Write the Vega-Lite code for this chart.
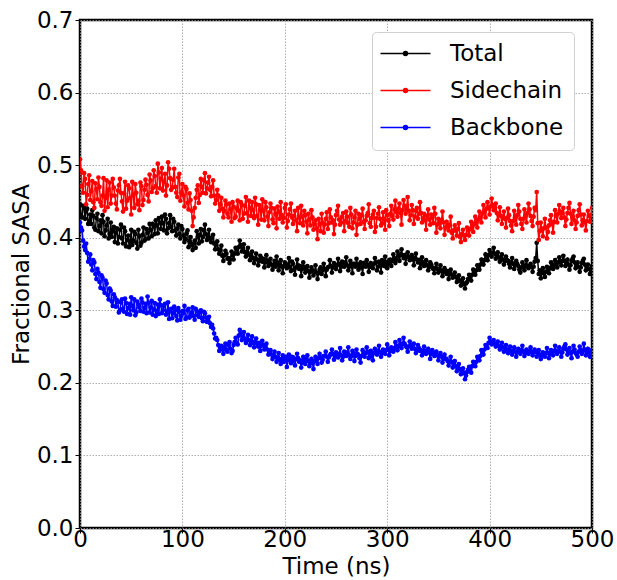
{
  "$schema": "https://vega.github.io/schema/vega-lite/v6.json",
  "width": 512,
  "height": 508,
  "autosize": {"type": "none"},
  "padding": {"left": 80, "top": 20, "right": 25, "bottom": 52},
  "background": "white",
  "config": {
    "font": "DejaVu Sans",
    "view": {"stroke": "black", "strokeWidth": 2.5},
    "axis": {
      "domain": false,
      "grid": true,
      "gridColor": "#9a9a9a",
      "gridDash": [1.5, 1.5],
      "gridWidth": 0.8,
      "tickColor": "black",
      "tickSize": 5,
      "tickWidth": 1,
      "labelFont": "DejaVu Sans",
      "labelFontSize": 23,
      "labelColor": "black",
      "labelFlush": false,
      "titleFont": "DejaVu Sans",
      "titleFontSize": 23,
      "titleFontWeight": "normal",
      "titleColor": "black"
    },
    "legend": {
      "labelFont": "DejaVu Sans",
      "labelFontSize": 23,
      "labelColor": "black"
    }
  },
  "data": {
    "values": [
      {"t":0,"Total":0.446,"Sidechain":0.508,"Backbone":0.421},
      {"t":1,"Total":0.431,"Sidechain":0.493,"Backbone":0.414},
      {"t":2,"Total":0.428,"Sidechain":0.471,"Backbone":0.410},
      {"t":3,"Total":0.444,"Sidechain":0.462,"Backbone":0.396},
      {"t":4,"Total":0.441,"Sidechain":0.489,"Backbone":0.388},
      {"t":5,"Total":0.426,"Sidechain":0.481,"Backbone":0.383},
      {"t":6,"Total":0.437,"Sidechain":0.446,"Backbone":0.392},
      {"t":7,"Total":0.440,"Sidechain":0.459,"Backbone":0.379},
      {"t":8,"Total":0.419,"Sidechain":0.474,"Backbone":0.367},
      {"t":9,"Total":0.423,"Sidechain":0.486,"Backbone":0.371},
      {"t":10,"Total":0.432,"Sidechain":0.452,"Backbone":0.377},
      {"t":11,"Total":0.419,"Sidechain":0.464,"Backbone":0.363},
      {"t":12,"Total":0.438,"Sidechain":0.478,"Backbone":0.355},
      {"t":13,"Total":0.430,"Sidechain":0.449,"Backbone":0.369},
      {"t":14,"Total":0.414,"Sidechain":0.441,"Backbone":0.366},
      {"t":15,"Total":0.411,"Sidechain":0.475,"Backbone":0.350},
      {"t":16,"Total":0.427,"Sidechain":0.467,"Backbone":0.343},
      {"t":17,"Total":0.433,"Sidechain":0.453,"Backbone":0.357},
      {"t":18,"Total":0.409,"Sidechain":0.483,"Backbone":0.352},
      {"t":19,"Total":0.416,"Sidechain":0.470,"Backbone":0.339},
      {"t":20,"Total":0.424,"Sidechain":0.449,"Backbone":0.331},
      {"t":21,"Total":0.406,"Sidechain":0.444,"Backbone":0.348},
      {"t":22,"Total":0.431,"Sidechain":0.458,"Backbone":0.345},
      {"t":23,"Total":0.422,"Sidechain":0.482,"Backbone":0.329},
      {"t":24,"Total":0.402,"Sidechain":0.437,"Backbone":0.324},
      {"t":25,"Total":0.410,"Sidechain":0.455,"Backbone":0.341},
      {"t":26,"Total":0.417,"Sidechain":0.479,"Backbone":0.337},
      {"t":27,"Total":0.426,"Sidechain":0.442,"Backbone":0.321},
      {"t":28,"Total":0.399,"Sidechain":0.466,"Backbone":0.315},
      {"t":29,"Total":0.405,"Sidechain":0.476,"Backbone":0.330},
      {"t":30,"Total":0.421,"Sidechain":0.447,"Backbone":0.327},
      {"t":31,"Total":0.401,"Sidechain":0.458,"Backbone":0.312},
      {"t":32,"Total":0.410,"Sidechain":0.481,"Backbone":0.306},
      {"t":33,"Total":0.415,"Sidechain":0.469,"Backbone":0.322},
      {"t":34,"Total":0.394,"Sidechain":0.458,"Backbone":0.318},
      {"t":35,"Total":0.407,"Sidechain":0.447,"Backbone":0.305},
      {"t":36,"Total":0.413,"Sidechain":0.439,"Backbone":0.314},
      {"t":37,"Total":0.392,"Sidechain":0.465,"Backbone":0.312},
      {"t":38,"Total":0.401,"Sidechain":0.472,"Backbone":0.297},
      {"t":39,"Total":0.411,"Sidechain":0.481,"Backbone":0.300},
      {"t":40,"Total":0.418,"Sidechain":0.462,"Backbone":0.311},
      {"t":41,"Total":0.399,"Sidechain":0.450,"Backbone":0.315},
      {"t":42,"Total":0.392,"Sidechain":0.436,"Backbone":0.302},
      {"t":43,"Total":0.414,"Sidechain":0.461,"Backbone":0.298},
      {"t":44,"Total":0.409,"Sidechain":0.477,"Backbone":0.316},
      {"t":45,"Total":0.388,"Sidechain":0.440,"Backbone":0.310},
      {"t":46,"Total":0.397,"Sidechain":0.451,"Backbone":0.295},
      {"t":47,"Total":0.403,"Sidechain":0.472,"Backbone":0.303},
      {"t":48,"Total":0.387,"Sidechain":0.468,"Backbone":0.309},
      {"t":49,"Total":0.395,"Sidechain":0.455,"Backbone":0.294},
      {"t":50,"Total":0.411,"Sidechain":0.432,"Backbone":0.318},
      {"t":51,"Total":0.390,"Sidechain":0.477,"Backbone":0.306},
      {"t":52,"Total":0.396,"Sidechain":0.459,"Backbone":0.300},
      {"t":53,"Total":0.408,"Sidechain":0.441,"Backbone":0.315},
      {"t":54,"Total":0.405,"Sidechain":0.474,"Backbone":0.293},
      {"t":55,"Total":0.393,"Sidechain":0.462,"Backbone":0.297},
      {"t":56,"Total":0.385,"Sidechain":0.446,"Backbone":0.312},
      {"t":57,"Total":0.411,"Sidechain":0.451,"Backbone":0.308},
      {"t":58,"Total":0.402,"Sidechain":0.438,"Backbone":0.304},
      {"t":59,"Total":0.389,"Sidechain":0.476,"Backbone":0.299},
      {"t":60,"Total":0.393,"Sidechain":0.471,"Backbone":0.316},
      {"t":61,"Total":0.404,"Sidechain":0.445,"Backbone":0.311},
      {"t":62,"Total":0.414,"Sidechain":0.452,"Backbone":0.298},
      {"t":63,"Total":0.396,"Sidechain":0.466,"Backbone":0.303},
      {"t":64,"Total":0.398,"Sidechain":0.480,"Backbone":0.309},
      {"t":65,"Total":0.412,"Sidechain":0.473,"Backbone":0.296},
      {"t":66,"Total":0.407,"Sidechain":0.459,"Backbone":0.319},
      {"t":67,"Total":0.399,"Sidechain":0.450,"Backbone":0.310},
      {"t":68,"Total":0.419,"Sidechain":0.487,"Backbone":0.297},
      {"t":69,"Total":0.411,"Sidechain":0.479,"Backbone":0.304},
      {"t":70,"Total":0.402,"Sidechain":0.463,"Backbone":0.313},
      {"t":71,"Total":0.419,"Sidechain":0.468,"Backbone":0.294},
      {"t":72,"Total":0.416,"Sidechain":0.493,"Backbone":0.301},
      {"t":73,"Total":0.405,"Sidechain":0.485,"Backbone":0.310},
      {"t":74,"Total":0.424,"Sidechain":0.471,"Backbone":0.292},
      {"t":75,"Total":0.417,"Sidechain":0.462,"Backbone":0.299},
      {"t":76,"Total":0.406,"Sidechain":0.502,"Backbone":0.308},
      {"t":77,"Total":0.427,"Sidechain":0.490,"Backbone":0.295},
      {"t":78,"Total":0.421,"Sidechain":0.468,"Backbone":0.315},
      {"t":79,"Total":0.412,"Sidechain":0.481,"Backbone":0.307},
      {"t":80,"Total":0.429,"Sidechain":0.496,"Backbone":0.296},
      {"t":81,"Total":0.420,"Sidechain":0.465,"Backbone":0.300},
      {"t":82,"Total":0.410,"Sidechain":0.477,"Backbone":0.306},
      {"t":83,"Total":0.432,"Sidechain":0.488,"Backbone":0.309},
      {"t":84,"Total":0.426,"Sidechain":0.458,"Backbone":0.294},
      {"t":85,"Total":0.406,"Sidechain":0.472,"Backbone":0.298},
      {"t":86,"Total":0.413,"Sidechain":0.504,"Backbone":0.311},
      {"t":87,"Total":0.420,"Sidechain":0.495,"Backbone":0.288},
      {"t":88,"Total":0.431,"Sidechain":0.482,"Backbone":0.299},
      {"t":89,"Total":0.415,"Sidechain":0.466,"Backbone":0.302},
      {"t":90,"Total":0.409,"Sidechain":0.469,"Backbone":0.289},
      {"t":91,"Total":0.426,"Sidechain":0.480,"Backbone":0.296},
      {"t":92,"Total":0.422,"Sidechain":0.495,"Backbone":0.305},
      {"t":93,"Total":0.410,"Sidechain":0.470,"Backbone":0.300},
      {"t":94,"Total":0.403,"Sidechain":0.462,"Backbone":0.292},
      {"t":95,"Total":0.413,"Sidechain":0.456,"Backbone":0.286},
      {"t":96,"Total":0.418,"Sidechain":0.483,"Backbone":0.303},
      {"t":97,"Total":0.405,"Sidechain":0.488,"Backbone":0.298},
      {"t":98,"Total":0.399,"Sidechain":0.451,"Backbone":0.287},
      {"t":99,"Total":0.416,"Sidechain":0.462,"Backbone":0.292},
      {"t":100,"Total":0.412,"Sidechain":0.474,"Backbone":0.299},
      {"t":101,"Total":0.403,"Sidechain":0.458,"Backbone":0.296},
      {"t":102,"Total":0.394,"Sidechain":0.443,"Backbone":0.306},
      {"t":103,"Total":0.398,"Sidechain":0.470,"Backbone":0.288},
      {"t":104,"Total":0.406,"Sidechain":0.467,"Backbone":0.290},
      {"t":105,"Total":0.410,"Sidechain":0.448,"Backbone":0.300},
      {"t":106,"Total":0.387,"Sidechain":0.439,"Backbone":0.302},
      {"t":107,"Total":0.395,"Sidechain":0.461,"Backbone":0.290},
      {"t":108,"Total":0.401,"Sidechain":0.452,"Backbone":0.293},
      {"t":109,"Total":0.390,"Sidechain":0.437,"Backbone":0.297},
      {"t":110,"Total":0.383,"Sidechain":0.416,"Backbone":0.304},
      {"t":111,"Total":0.392,"Sidechain":0.428,"Backbone":0.292},
      {"t":112,"Total":0.396,"Sidechain":0.441,"Backbone":0.287},
      {"t":113,"Total":0.386,"Sidechain":0.455,"Backbone":0.302},
      {"t":114,"Total":0.409,"Sidechain":0.466,"Backbone":0.299},
      {"t":115,"Total":0.401,"Sidechain":0.472,"Backbone":0.293},
      {"t":116,"Total":0.392,"Sidechain":0.448,"Backbone":0.291},
      {"t":117,"Total":0.404,"Sidechain":0.459,"Backbone":0.297},
      {"t":118,"Total":0.412,"Sidechain":0.481,"Backbone":0.300},
      {"t":119,"Total":0.395,"Sidechain":0.470,"Backbone":0.289},
      {"t":120,"Total":0.401,"Sidechain":0.462,"Backbone":0.285},
      {"t":121,"Total":0.410,"Sidechain":0.479,"Backbone":0.298},
      {"t":122,"Total":0.418,"Sidechain":0.489,"Backbone":0.296},
      {"t":123,"Total":0.405,"Sidechain":0.461,"Backbone":0.290},
      {"t":124,"Total":0.397,"Sidechain":0.468,"Backbone":0.284},
      {"t":125,"Total":0.401,"Sidechain":0.476,"Backbone":0.286},
      {"t":126,"Total":0.411,"Sidechain":0.484,"Backbone":0.291},
      {"t":127,"Total":0.399,"Sidechain":0.466,"Backbone":0.282},
      {"t":128,"Total":0.394,"Sidechain":0.457,"Backbone":0.277},
      {"t":129,"Total":0.400,"Sidechain":0.470,"Backbone":0.280},
      {"t":130,"Total":0.404,"Sidechain":0.479,"Backbone":0.275},
      {"t":131,"Total":0.392,"Sidechain":0.458,"Backbone":0.268},
      {"t":132,"Total":0.384,"Sidechain":0.447,"Backbone":0.261},
      {"t":133,"Total":0.390,"Sidechain":0.452,"Backbone":0.262},
      {"t":134,"Total":0.395,"Sidechain":0.466,"Backbone":0.259},
      {"t":135,"Total":0.384,"Sidechain":0.458,"Backbone":0.252},
      {"t":136,"Total":0.378,"Sidechain":0.437,"Backbone":0.244},
      {"t":137,"Total":0.383,"Sidechain":0.446,"Backbone":0.249},
      {"t":138,"Total":0.389,"Sidechain":0.455,"Backbone":0.251},
      {"t":139,"Total":0.375,"Sidechain":0.440,"Backbone":0.246},
      {"t":140,"Total":0.368,"Sidechain":0.428,"Backbone":0.240},
      {"t":141,"Total":0.376,"Sidechain":0.437,"Backbone":0.249},
      {"t":142,"Total":0.382,"Sidechain":0.451,"Backbone":0.254},
      {"t":143,"Total":0.378,"Sidechain":0.446,"Backbone":0.245},
      {"t":144,"Total":0.371,"Sidechain":0.433,"Backbone":0.243},
      {"t":145,"Total":0.372,"Sidechain":0.428,"Backbone":0.252},
      {"t":146,"Total":0.365,"Sidechain":0.447,"Backbone":0.256},
      {"t":147,"Total":0.370,"Sidechain":0.439,"Backbone":0.247},
      {"t":148,"Total":0.381,"Sidechain":0.422,"Backbone":0.241},
      {"t":149,"Total":0.376,"Sidechain":0.449,"Backbone":0.244},
      {"t":150,"Total":0.370,"Sidechain":0.443,"Backbone":0.252},
      {"t":151,"Total":0.378,"Sidechain":0.427,"Backbone":0.256},
      {"t":152,"Total":0.386,"Sidechain":0.429,"Backbone":0.262},
      {"t":153,"Total":0.384,"Sidechain":0.440,"Backbone":0.255},
      {"t":154,"Total":0.378,"Sidechain":0.451,"Backbone":0.253},
      {"t":155,"Total":0.387,"Sidechain":0.437,"Backbone":0.265},
      {"t":156,"Total":0.396,"Sidechain":0.424,"Backbone":0.273},
      {"t":157,"Total":0.390,"Sidechain":0.449,"Backbone":0.268},
      {"t":158,"Total":0.381,"Sidechain":0.445,"Backbone":0.259},
      {"t":159,"Total":0.385,"Sidechain":0.426,"Backbone":0.263},
      {"t":160,"Total":0.391,"Sidechain":0.433,"Backbone":0.270},
      {"t":161,"Total":0.380,"Sidechain":0.444,"Backbone":0.261},
      {"t":162,"Total":0.374,"Sidechain":0.456,"Backbone":0.255},
      {"t":163,"Total":0.381,"Sidechain":0.434,"Backbone":0.259},
      {"t":164,"Total":0.386,"Sidechain":0.422,"Backbone":0.266},
      {"t":165,"Total":0.377,"Sidechain":0.451,"Backbone":0.259},
      {"t":166,"Total":0.369,"Sidechain":0.441,"Backbone":0.252},
      {"t":167,"Total":0.375,"Sidechain":0.430,"Backbone":0.258},
      {"t":168,"Total":0.381,"Sidechain":0.449,"Backbone":0.264},
      {"t":169,"Total":0.372,"Sidechain":0.438,"Backbone":0.255},
      {"t":170,"Total":0.365,"Sidechain":0.427,"Backbone":0.249},
      {"t":171,"Total":0.371,"Sidechain":0.455,"Backbone":0.257},
      {"t":172,"Total":0.378,"Sidechain":0.446,"Backbone":0.261},
      {"t":173,"Total":0.370,"Sidechain":0.430,"Backbone":0.254},
      {"t":174,"Total":0.362,"Sidechain":0.418,"Backbone":0.250},
      {"t":175,"Total":0.368,"Sidechain":0.445,"Backbone":0.255},
      {"t":176,"Total":0.375,"Sidechain":0.439,"Backbone":0.244},
      {"t":177,"Total":0.372,"Sidechain":0.425,"Backbone":0.251},
      {"t":178,"Total":0.367,"Sidechain":0.453,"Backbone":0.258},
      {"t":179,"Total":0.371,"Sidechain":0.437,"Backbone":0.252},
      {"t":180,"Total":0.359,"Sidechain":0.424,"Backbone":0.246},
      {"t":181,"Total":0.366,"Sidechain":0.449,"Backbone":0.249},
      {"t":182,"Total":0.376,"Sidechain":0.442,"Backbone":0.254},
      {"t":183,"Total":0.368,"Sidechain":0.429,"Backbone":0.246},
      {"t":184,"Total":0.361,"Sidechain":0.416,"Backbone":0.239},
      {"t":185,"Total":0.365,"Sidechain":0.435,"Backbone":0.242},
      {"t":186,"Total":0.371,"Sidechain":0.447,"Backbone":0.245},
      {"t":187,"Total":0.363,"Sidechain":0.441,"Backbone":0.239},
      {"t":188,"Total":0.356,"Sidechain":0.425,"Backbone":0.233},
      {"t":189,"Total":0.362,"Sidechain":0.420,"Backbone":0.238},
      {"t":190,"Total":0.368,"Sidechain":0.440,"Backbone":0.243},
      {"t":191,"Total":0.360,"Sidechain":0.433,"Backbone":0.236},
      {"t":192,"Total":0.374,"Sidechain":0.413,"Backbone":0.229},
      {"t":193,"Total":0.365,"Sidechain":0.443,"Backbone":0.234},
      {"t":194,"Total":0.355,"Sidechain":0.436,"Backbone":0.241},
      {"t":195,"Total":0.362,"Sidechain":0.426,"Backbone":0.232},
      {"t":196,"Total":0.369,"Sidechain":0.449,"Backbone":0.226},
      {"t":197,"Total":0.360,"Sidechain":0.431,"Backbone":0.233},
      {"t":198,"Total":0.351,"Sidechain":0.421,"Backbone":0.238},
      {"t":199,"Total":0.361,"Sidechain":0.427,"Backbone":0.229},
      {"t":200,"Total":0.366,"Sidechain":0.441,"Backbone":0.232},
      {"t":201,"Total":0.364,"Sidechain":0.446,"Backbone":0.236},
      {"t":202,"Total":0.358,"Sidechain":0.414,"Backbone":0.222},
      {"t":203,"Total":0.361,"Sidechain":0.423,"Backbone":0.231},
      {"t":204,"Total":0.372,"Sidechain":0.432,"Backbone":0.239},
      {"t":205,"Total":0.360,"Sidechain":0.439,"Backbone":0.232},
      {"t":206,"Total":0.354,"Sidechain":0.447,"Backbone":0.227},
      {"t":207,"Total":0.367,"Sidechain":0.428,"Backbone":0.236},
      {"t":208,"Total":0.364,"Sidechain":0.419,"Backbone":0.235},
      {"t":209,"Total":0.356,"Sidechain":0.430,"Backbone":0.230},
      {"t":210,"Total":0.349,"Sidechain":0.437,"Backbone":0.224},
      {"t":211,"Total":0.359,"Sidechain":0.424,"Backbone":0.233},
      {"t":212,"Total":0.370,"Sidechain":0.409,"Backbone":0.240},
      {"t":213,"Total":0.362,"Sidechain":0.441,"Backbone":0.234},
      {"t":214,"Total":0.357,"Sidechain":0.428,"Backbone":0.229},
      {"t":215,"Total":0.361,"Sidechain":0.420,"Backbone":0.231},
      {"t":216,"Total":0.347,"Sidechain":0.444,"Backbone":0.221},
      {"t":217,"Total":0.357,"Sidechain":0.429,"Backbone":0.228},
      {"t":218,"Total":0.366,"Sidechain":0.417,"Backbone":0.236},
      {"t":219,"Total":0.359,"Sidechain":0.437,"Backbone":0.232},
      {"t":220,"Total":0.352,"Sidechain":0.431,"Backbone":0.226},
      {"t":221,"Total":0.356,"Sidechain":0.422,"Backbone":0.233},
      {"t":222,"Total":0.361,"Sidechain":0.406,"Backbone":0.238},
      {"t":223,"Total":0.354,"Sidechain":0.433,"Backbone":0.230},
      {"t":224,"Total":0.345,"Sidechain":0.425,"Backbone":0.223},
      {"t":225,"Total":0.353,"Sidechain":0.417,"Backbone":0.229},
      {"t":226,"Total":0.359,"Sidechain":0.438,"Backbone":0.233},
      {"t":227,"Total":0.355,"Sidechain":0.428,"Backbone":0.227},
      {"t":228,"Total":0.348,"Sidechain":0.411,"Backbone":0.219},
      {"t":229,"Total":0.353,"Sidechain":0.419,"Backbone":0.230},
      {"t":230,"Total":0.362,"Sidechain":0.424,"Backbone":0.236},
      {"t":231,"Total":0.352,"Sidechain":0.413,"Backbone":0.232},
      {"t":232,"Total":0.343,"Sidechain":0.398,"Backbone":0.226},
      {"t":233,"Total":0.351,"Sidechain":0.426,"Backbone":0.234},
      {"t":234,"Total":0.356,"Sidechain":0.419,"Backbone":0.240},
      {"t":235,"Total":0.359,"Sidechain":0.409,"Backbone":0.235},
      {"t":236,"Total":0.350,"Sidechain":0.433,"Backbone":0.228},
      {"t":237,"Total":0.355,"Sidechain":0.421,"Backbone":0.232},
      {"t":238,"Total":0.364,"Sidechain":0.407,"Backbone":0.237},
      {"t":239,"Total":0.357,"Sidechain":0.418,"Backbone":0.237},
      {"t":240,"Total":0.347,"Sidechain":0.426,"Backbone":0.243},
      {"t":241,"Total":0.356,"Sidechain":0.435,"Backbone":0.236},
      {"t":242,"Total":0.359,"Sidechain":0.412,"Backbone":0.229},
      {"t":243,"Total":0.360,"Sidechain":0.420,"Backbone":0.235},
      {"t":244,"Total":0.369,"Sidechain":0.439,"Backbone":0.238},
      {"t":245,"Total":0.361,"Sidechain":0.428,"Backbone":0.240},
      {"t":246,"Total":0.352,"Sidechain":0.421,"Backbone":0.246},
      {"t":247,"Total":0.359,"Sidechain":0.424,"Backbone":0.240},
      {"t":248,"Total":0.365,"Sidechain":0.405,"Backbone":0.232},
      {"t":249,"Total":0.363,"Sidechain":0.418,"Backbone":0.237},
      {"t":250,"Total":0.357,"Sidechain":0.431,"Backbone":0.242},
      {"t":251,"Total":0.362,"Sidechain":0.437,"Backbone":0.239},
      {"t":252,"Total":0.371,"Sidechain":0.444,"Backbone":0.235},
      {"t":253,"Total":0.364,"Sidechain":0.425,"Backbone":0.240},
      {"t":254,"Total":0.354,"Sidechain":0.418,"Backbone":0.248},
      {"t":255,"Total":0.360,"Sidechain":0.421,"Backbone":0.238},
      {"t":256,"Total":0.367,"Sidechain":0.429,"Backbone":0.231},
      {"t":257,"Total":0.364,"Sidechain":0.434,"Backbone":0.236},
      {"t":258,"Total":0.360,"Sidechain":0.409,"Backbone":0.243},
      {"t":259,"Total":0.366,"Sidechain":0.423,"Backbone":0.240},
      {"t":260,"Total":0.373,"Sidechain":0.436,"Backbone":0.237},
      {"t":261,"Total":0.362,"Sidechain":0.429,"Backbone":0.242},
      {"t":262,"Total":0.355,"Sidechain":0.420,"Backbone":0.249},
      {"t":263,"Total":0.360,"Sidechain":0.415,"Backbone":0.238},
      {"t":264,"Total":0.368,"Sidechain":0.441,"Backbone":0.233},
      {"t":265,"Total":0.363,"Sidechain":0.432,"Backbone":0.237},
      {"t":266,"Total":0.351,"Sidechain":0.413,"Backbone":0.244},
      {"t":267,"Total":0.364,"Sidechain":0.421,"Backbone":0.241},
      {"t":268,"Total":0.364,"Sidechain":0.428,"Backbone":0.230},
      {"t":269,"Total":0.360,"Sidechain":0.437,"Backbone":0.237},
      {"t":270,"Total":0.371,"Sidechain":0.404,"Backbone":0.246},
      {"t":271,"Total":0.363,"Sidechain":0.418,"Backbone":0.240},
      {"t":272,"Total":0.356,"Sidechain":0.433,"Backbone":0.238},
      {"t":273,"Total":0.362,"Sidechain":0.426,"Backbone":0.234},
      {"t":274,"Total":0.366,"Sidechain":0.419,"Backbone":0.228},
      {"t":275,"Total":0.359,"Sidechain":0.431,"Backbone":0.237},
      {"t":276,"Total":0.350,"Sidechain":0.440,"Backbone":0.245},
      {"t":277,"Total":0.365,"Sidechain":0.422,"Backbone":0.241},
      {"t":278,"Total":0.362,"Sidechain":0.412,"Backbone":0.236},
      {"t":279,"Total":0.360,"Sidechain":0.424,"Backbone":0.241},
      {"t":280,"Total":0.369,"Sidechain":0.430,"Backbone":0.249},
      {"t":281,"Total":0.363,"Sidechain":0.434,"Backbone":0.243},
      {"t":282,"Total":0.353,"Sidechain":0.446,"Backbone":0.234},
      {"t":283,"Total":0.360,"Sidechain":0.420,"Backbone":0.240},
      {"t":284,"Total":0.365,"Sidechain":0.415,"Backbone":0.244},
      {"t":285,"Total":0.360,"Sidechain":0.427,"Backbone":0.237},
      {"t":286,"Total":0.358,"Sidechain":0.432,"Backbone":0.231},
      {"t":287,"Total":0.364,"Sidechain":0.437,"Backbone":0.241},
      {"t":288,"Total":0.372,"Sidechain":0.408,"Backbone":0.247},
      {"t":289,"Total":0.366,"Sidechain":0.415,"Backbone":0.242},
      {"t":290,"Total":0.355,"Sidechain":0.427,"Backbone":0.239},
      {"t":291,"Total":0.360,"Sidechain":0.433,"Backbone":0.244},
      {"t":292,"Total":0.367,"Sidechain":0.442,"Backbone":0.251},
      {"t":293,"Total":0.362,"Sidechain":0.426,"Backbone":0.242},
      {"t":294,"Total":0.352,"Sidechain":0.417,"Backbone":0.236},
      {"t":295,"Total":0.369,"Sidechain":0.420,"Backbone":0.241},
      {"t":296,"Total":0.364,"Sidechain":0.435,"Backbone":0.246},
      {"t":297,"Total":0.361,"Sidechain":0.426,"Backbone":0.243},
      {"t":298,"Total":0.374,"Sidechain":0.411,"Backbone":0.240},
      {"t":299,"Total":0.366,"Sidechain":0.438,"Backbone":0.245},
      {"t":300,"Total":0.358,"Sidechain":0.431,"Backbone":0.253},
      {"t":301,"Total":0.364,"Sidechain":0.424,"Backbone":0.247},
      {"t":302,"Total":0.369,"Sidechain":0.416,"Backbone":0.238},
      {"t":303,"Total":0.370,"Sidechain":0.433,"Backbone":0.244},
      {"t":304,"Total":0.361,"Sidechain":0.444,"Backbone":0.249},
      {"t":305,"Total":0.368,"Sidechain":0.430,"Backbone":0.246},
      {"t":306,"Total":0.377,"Sidechain":0.425,"Backbone":0.243},
      {"t":307,"Total":0.372,"Sidechain":0.439,"Backbone":0.248},
      {"t":308,"Total":0.365,"Sidechain":0.451,"Backbone":0.256},
      {"t":309,"Total":0.370,"Sidechain":0.435,"Backbone":0.251},
      {"t":310,"Total":0.381,"Sidechain":0.429,"Backbone":0.245},
      {"t":311,"Total":0.375,"Sidechain":0.440,"Backbone":0.250},
      {"t":312,"Total":0.368,"Sidechain":0.447,"Backbone":0.259},
      {"t":313,"Total":0.377,"Sidechain":0.434,"Backbone":0.253},
      {"t":314,"Total":0.384,"Sidechain":0.418,"Backbone":0.248},
      {"t":315,"Total":0.376,"Sidechain":0.438,"Backbone":0.254},
      {"t":316,"Total":0.372,"Sidechain":0.452,"Backbone":0.262},
      {"t":317,"Total":0.376,"Sidechain":0.444,"Backbone":0.254},
      {"t":318,"Total":0.364,"Sidechain":0.433,"Backbone":0.251},
      {"t":319,"Total":0.373,"Sidechain":0.441,"Backbone":0.249},
      {"t":320,"Total":0.380,"Sidechain":0.456,"Backbone":0.243},
      {"t":321,"Total":0.374,"Sidechain":0.437,"Backbone":0.250},
      {"t":322,"Total":0.369,"Sidechain":0.424,"Backbone":0.257},
      {"t":323,"Total":0.371,"Sidechain":0.431,"Backbone":0.252},
      {"t":324,"Total":0.376,"Sidechain":0.445,"Backbone":0.247},
      {"t":325,"Total":0.370,"Sidechain":0.438,"Backbone":0.249},
      {"t":326,"Total":0.362,"Sidechain":0.419,"Backbone":0.254},
      {"t":327,"Total":0.372,"Sidechain":0.429,"Backbone":0.247},
      {"t":328,"Total":0.378,"Sidechain":0.437,"Backbone":0.241},
      {"t":329,"Total":0.370,"Sidechain":0.441,"Backbone":0.245},
      {"t":330,"Total":0.366,"Sidechain":0.426,"Backbone":0.252},
      {"t":331,"Total":0.369,"Sidechain":0.433,"Backbone":0.248},
      {"t":332,"Total":0.358,"Sidechain":0.449,"Backbone":0.244},
      {"t":333,"Total":0.364,"Sidechain":0.434,"Backbone":0.245},
      {"t":334,"Total":0.373,"Sidechain":0.421,"Backbone":0.238},
      {"t":335,"Total":0.366,"Sidechain":0.427,"Backbone":0.243},
      {"t":336,"Total":0.361,"Sidechain":0.433,"Backbone":0.250},
      {"t":337,"Total":0.365,"Sidechain":0.424,"Backbone":0.244},
      {"t":338,"Total":0.369,"Sidechain":0.411,"Backbone":0.240},
      {"t":339,"Total":0.362,"Sidechain":0.430,"Backbone":0.242},
      {"t":340,"Total":0.355,"Sidechain":0.439,"Backbone":0.247},
      {"t":341,"Total":0.360,"Sidechain":0.425,"Backbone":0.242},
      {"t":342,"Total":0.366,"Sidechain":0.418,"Backbone":0.233},
      {"t":343,"Total":0.363,"Sidechain":0.432,"Backbone":0.240},
      {"t":344,"Total":0.359,"Sidechain":0.428,"Backbone":0.245},
      {"t":345,"Total":0.357,"Sidechain":0.420,"Backbone":0.241},
      {"t":346,"Total":0.351,"Sidechain":0.441,"Backbone":0.237},
      {"t":347,"Total":0.358,"Sidechain":0.433,"Backbone":0.238},
      {"t":348,"Total":0.364,"Sidechain":0.407,"Backbone":0.243},
      {"t":349,"Total":0.357,"Sidechain":0.418,"Backbone":0.238},
      {"t":350,"Total":0.352,"Sidechain":0.426,"Backbone":0.231},
      {"t":351,"Total":0.356,"Sidechain":0.420,"Backbone":0.237},
      {"t":352,"Total":0.362,"Sidechain":0.413,"Backbone":0.241},
      {"t":353,"Total":0.354,"Sidechain":0.424,"Backbone":0.236},
      {"t":354,"Total":0.347,"Sidechain":0.436,"Backbone":0.228},
      {"t":355,"Total":0.353,"Sidechain":0.421,"Backbone":0.234},
      {"t":356,"Total":0.358,"Sidechain":0.404,"Backbone":0.239},
      {"t":357,"Total":0.353,"Sidechain":0.414,"Backbone":0.233},
      {"t":358,"Total":0.350,"Sidechain":0.422,"Backbone":0.233},
      {"t":359,"Total":0.354,"Sidechain":0.418,"Backbone":0.230},
      {"t":360,"Total":0.343,"Sidechain":0.410,"Backbone":0.224},
      {"t":361,"Total":0.350,"Sidechain":0.417,"Backbone":0.229},
      {"t":362,"Total":0.356,"Sidechain":0.429,"Backbone":0.236},
      {"t":363,"Total":0.349,"Sidechain":0.407,"Backbone":0.229},
      {"t":364,"Total":0.345,"Sidechain":0.399,"Backbone":0.221},
      {"t":365,"Total":0.348,"Sidechain":0.410,"Backbone":0.226},
      {"t":366,"Total":0.352,"Sidechain":0.417,"Backbone":0.230},
      {"t":367,"Total":0.346,"Sidechain":0.410,"Backbone":0.223},
      {"t":368,"Total":0.339,"Sidechain":0.403,"Backbone":0.216},
      {"t":369,"Total":0.343,"Sidechain":0.412,"Backbone":0.220},
      {"t":370,"Total":0.348,"Sidechain":0.420,"Backbone":0.226},
      {"t":371,"Total":0.341,"Sidechain":0.401,"Backbone":0.219},
      {"t":372,"Total":0.334,"Sidechain":0.394,"Backbone":0.212},
      {"t":373,"Total":0.340,"Sidechain":0.405,"Backbone":0.216},
      {"t":374,"Total":0.344,"Sidechain":0.411,"Backbone":0.220},
      {"t":375,"Total":0.336,"Sidechain":0.403,"Backbone":0.214},
      {"t":376,"Total":0.330,"Sidechain":0.397,"Backbone":0.205},
      {"t":377,"Total":0.337,"Sidechain":0.404,"Backbone":0.210},
      {"t":378,"Total":0.339,"Sidechain":0.414,"Backbone":0.215},
      {"t":379,"Total":0.343,"Sidechain":0.410,"Backbone":0.218},
      {"t":380,"Total":0.349,"Sidechain":0.403,"Backbone":0.222},
      {"t":381,"Total":0.346,"Sidechain":0.412,"Backbone":0.219},
      {"t":382,"Total":0.341,"Sidechain":0.422,"Backbone":0.214},
      {"t":383,"Total":0.349,"Sidechain":0.416,"Backbone":0.223},
      {"t":384,"Total":0.356,"Sidechain":0.408,"Backbone":0.229},
      {"t":385,"Total":0.352,"Sidechain":0.419,"Backbone":0.226},
      {"t":386,"Total":0.349,"Sidechain":0.429,"Backbone":0.223},
      {"t":387,"Total":0.355,"Sidechain":0.421,"Backbone":0.229},
      {"t":388,"Total":0.362,"Sidechain":0.414,"Backbone":0.236},
      {"t":389,"Total":0.359,"Sidechain":0.425,"Backbone":0.234},
      {"t":390,"Total":0.356,"Sidechain":0.436,"Backbone":0.231},
      {"t":391,"Total":0.363,"Sidechain":0.428,"Backbone":0.237},
      {"t":392,"Total":0.370,"Sidechain":0.421,"Backbone":0.245},
      {"t":393,"Total":0.366,"Sidechain":0.433,"Backbone":0.242},
      {"t":394,"Total":0.363,"Sidechain":0.445,"Backbone":0.239},
      {"t":395,"Total":0.369,"Sidechain":0.436,"Backbone":0.246},
      {"t":396,"Total":0.377,"Sidechain":0.428,"Backbone":0.252},
      {"t":397,"Total":0.373,"Sidechain":0.440,"Backbone":0.249},
      {"t":398,"Total":0.369,"Sidechain":0.449,"Backbone":0.248},
      {"t":399,"Total":0.376,"Sidechain":0.441,"Backbone":0.255},
      {"t":400,"Total":0.383,"Sidechain":0.432,"Backbone":0.262},
      {"t":401,"Total":0.378,"Sidechain":0.443,"Backbone":0.257},
      {"t":402,"Total":0.374,"Sidechain":0.454,"Backbone":0.253},
      {"t":403,"Total":0.379,"Sidechain":0.445,"Backbone":0.256},
      {"t":404,"Total":0.386,"Sidechain":0.438,"Backbone":0.259},
      {"t":405,"Total":0.378,"Sidechain":0.441,"Backbone":0.254},
      {"t":406,"Total":0.371,"Sidechain":0.447,"Backbone":0.250},
      {"t":407,"Total":0.376,"Sidechain":0.434,"Backbone":0.253},
      {"t":408,"Total":0.380,"Sidechain":0.424,"Backbone":0.257},
      {"t":409,"Total":0.373,"Sidechain":0.432,"Backbone":0.251},
      {"t":410,"Total":0.367,"Sidechain":0.442,"Backbone":0.246},
      {"t":411,"Total":0.372,"Sidechain":0.430,"Backbone":0.251},
      {"t":412,"Total":0.377,"Sidechain":0.419,"Backbone":0.255},
      {"t":413,"Total":0.370,"Sidechain":0.428,"Backbone":0.249},
      {"t":414,"Total":0.363,"Sidechain":0.436,"Backbone":0.243},
      {"t":415,"Total":0.368,"Sidechain":0.426,"Backbone":0.248},
      {"t":416,"Total":0.374,"Sidechain":0.414,"Backbone":0.252},
      {"t":417,"Total":0.369,"Sidechain":0.427,"Backbone":0.246},
      {"t":418,"Total":0.368,"Sidechain":0.440,"Backbone":0.241},
      {"t":419,"Total":0.364,"Sidechain":0.431,"Backbone":0.246},
      {"t":420,"Total":0.359,"Sidechain":0.423,"Backbone":0.250},
      {"t":421,"Total":0.366,"Sidechain":0.417,"Backbone":0.244},
      {"t":422,"Total":0.372,"Sidechain":0.409,"Backbone":0.239},
      {"t":423,"Total":0.364,"Sidechain":0.423,"Backbone":0.244},
      {"t":424,"Total":0.357,"Sidechain":0.437,"Backbone":0.249},
      {"t":425,"Total":0.363,"Sidechain":0.428,"Backbone":0.243},
      {"t":426,"Total":0.368,"Sidechain":0.418,"Backbone":0.236},
      {"t":427,"Total":0.364,"Sidechain":0.431,"Backbone":0.242},
      {"t":428,"Total":0.361,"Sidechain":0.445,"Backbone":0.247},
      {"t":429,"Total":0.356,"Sidechain":0.436,"Backbone":0.243},
      {"t":430,"Total":0.352,"Sidechain":0.426,"Backbone":0.240},
      {"t":431,"Total":0.359,"Sidechain":0.419,"Backbone":0.245},
      {"t":432,"Total":0.366,"Sidechain":0.412,"Backbone":0.251},
      {"t":433,"Total":0.360,"Sidechain":0.426,"Backbone":0.243},
      {"t":434,"Total":0.355,"Sidechain":0.439,"Backbone":0.237},
      {"t":435,"Total":0.362,"Sidechain":0.430,"Backbone":0.241},
      {"t":436,"Total":0.369,"Sidechain":0.421,"Backbone":0.246},
      {"t":437,"Total":0.361,"Sidechain":0.434,"Backbone":0.243},
      {"t":438,"Total":0.358,"Sidechain":0.447,"Backbone":0.240},
      {"t":439,"Total":0.361,"Sidechain":0.439,"Backbone":0.244},
      {"t":440,"Total":0.364,"Sidechain":0.430,"Backbone":0.249},
      {"t":441,"Total":0.360,"Sidechain":0.423,"Backbone":0.243},
      {"t":442,"Total":0.353,"Sidechain":0.416,"Backbone":0.238},
      {"t":443,"Total":0.360,"Sidechain":0.429,"Backbone":0.242},
      {"t":444,"Total":0.367,"Sidechain":0.441,"Backbone":0.246},
      {"t":445,"Total":0.372,"Sidechain":0.438,"Backbone":0.243},
      {"t":446,"Total":0.393,"Sidechain":0.463,"Backbone":0.236},
      {"t":447,"Total":0.368,"Sidechain":0.420,"Backbone":0.241},
      {"t":448,"Total":0.350,"Sidechain":0.397,"Backbone":0.245},
      {"t":449,"Total":0.355,"Sidechain":0.409,"Backbone":0.239},
      {"t":450,"Total":0.344,"Sidechain":0.421,"Backbone":0.233},
      {"t":451,"Total":0.351,"Sidechain":0.412,"Backbone":0.238},
      {"t":452,"Total":0.358,"Sidechain":0.402,"Backbone":0.242},
      {"t":453,"Total":0.352,"Sidechain":0.413,"Backbone":0.239},
      {"t":454,"Total":0.346,"Sidechain":0.426,"Backbone":0.236},
      {"t":455,"Total":0.353,"Sidechain":0.414,"Backbone":0.241},
      {"t":456,"Total":0.360,"Sidechain":0.399,"Backbone":0.248},
      {"t":457,"Total":0.355,"Sidechain":0.408,"Backbone":0.241},
      {"t":458,"Total":0.351,"Sidechain":0.417,"Backbone":0.234},
      {"t":459,"Total":0.358,"Sidechain":0.424,"Backbone":0.240},
      {"t":460,"Total":0.366,"Sidechain":0.431,"Backbone":0.245},
      {"t":461,"Total":0.360,"Sidechain":0.419,"Backbone":0.241},
      {"t":462,"Total":0.357,"Sidechain":0.407,"Backbone":0.238},
      {"t":463,"Total":0.363,"Sidechain":0.422,"Backbone":0.244},
      {"t":464,"Total":0.369,"Sidechain":0.438,"Backbone":0.251},
      {"t":465,"Total":0.364,"Sidechain":0.430,"Backbone":0.244},
      {"t":466,"Total":0.359,"Sidechain":0.421,"Backbone":0.240},
      {"t":467,"Total":0.366,"Sidechain":0.433,"Backbone":0.244},
      {"t":468,"Total":0.373,"Sidechain":0.445,"Backbone":0.249},
      {"t":469,"Total":0.367,"Sidechain":0.436,"Backbone":0.243},
      {"t":470,"Total":0.362,"Sidechain":0.427,"Backbone":0.236},
      {"t":471,"Total":0.368,"Sidechain":0.434,"Backbone":0.242},
      {"t":472,"Total":0.375,"Sidechain":0.441,"Backbone":0.247},
      {"t":473,"Total":0.368,"Sidechain":0.428,"Backbone":0.250},
      {"t":474,"Total":0.361,"Sidechain":0.416,"Backbone":0.253},
      {"t":475,"Total":0.366,"Sidechain":0.425,"Backbone":0.246},
      {"t":476,"Total":0.370,"Sidechain":0.434,"Backbone":0.239},
      {"t":477,"Total":0.363,"Sidechain":0.441,"Backbone":0.243},
      {"t":478,"Total":0.356,"Sidechain":0.448,"Backbone":0.248},
      {"t":479,"Total":0.362,"Sidechain":0.433,"Backbone":0.241},
      {"t":480,"Total":0.368,"Sidechain":0.419,"Backbone":0.234},
      {"t":481,"Total":0.371,"Sidechain":0.428,"Backbone":0.243},
      {"t":482,"Total":0.374,"Sidechain":0.437,"Backbone":0.251},
      {"t":483,"Total":0.366,"Sidechain":0.424,"Backbone":0.246},
      {"t":484,"Total":0.358,"Sidechain":0.412,"Backbone":0.241},
      {"t":485,"Total":0.362,"Sidechain":0.421,"Backbone":0.239},
      {"t":486,"Total":0.366,"Sidechain":0.430,"Backbone":0.236},
      {"t":487,"Total":0.360,"Sidechain":0.438,"Backbone":0.243},
      {"t":488,"Total":0.353,"Sidechain":0.446,"Backbone":0.250},
      {"t":489,"Total":0.359,"Sidechain":0.432,"Backbone":0.245},
      {"t":490,"Total":0.365,"Sidechain":0.417,"Backbone":0.240},
      {"t":491,"Total":0.368,"Sidechain":0.424,"Backbone":0.244},
      {"t":492,"Total":0.371,"Sidechain":0.432,"Backbone":0.254},
      {"t":493,"Total":0.363,"Sidechain":0.421,"Backbone":0.246},
      {"t":494,"Total":0.355,"Sidechain":0.410,"Backbone":0.238},
      {"t":495,"Total":0.359,"Sidechain":0.423,"Backbone":0.241},
      {"t":496,"Total":0.363,"Sidechain":0.437,"Backbone":0.247},
      {"t":497,"Total":0.357,"Sidechain":0.430,"Backbone":0.242},
      {"t":498,"Total":0.350,"Sidechain":0.422,"Backbone":0.236},
      {"t":499,"Total":0.356,"Sidechain":0.431,"Backbone":0.241},
      {"t":500,"Total":0.361,"Sidechain":0.441,"Backbone":0.245}
    ]
  },
  "transform": [
    {"fold": ["Total", "Sidechain", "Backbone"], "as": ["series", "value"]}
  ],
  "mark": {
    "type": "line",
    "strokeWidth": 1.5,
    "clip": true,
    "point": {"filled": true, "size": 22}
  },
  "encoding": {
    "x": {
      "field": "t",
      "type": "quantitative",
      "scale": {"domain": [0, 500], "nice": false, "zero": false},
      "axis": {
        "title": "Time (ns)",
        "values": [0, 100, 200, 300, 400, 500],
        "labelPadding": -5,
        "titlePadding": 4
      }
    },
    "y": {
      "field": "value",
      "type": "quantitative",
      "scale": {"domain": [0, 0.7], "nice": false},
      "axis": {
        "title": "Fractional SASA",
        "values": [0, 0.1, 0.2, 0.3, 0.4, 0.5, 0.6, 0.7],
        "format": ".1f",
        "labelPadding": 2,
        "titlePadding": 3
      }
    },
    "color": {
      "field": "series",
      "type": "nominal",
      "sort": ["Total", "Sidechain", "Backbone"],
      "scale": {"domain": ["Total", "Sidechain", "Backbone"], "range": ["black", "red", "blue"]},
      "legend": {
        "title": null,
        "orient": "none",
        "legendX": 292,
        "legendY": 12,
        "padding": 10,
        "fillColor": "white",
        "strokeColor": "#d0d0d0",
        "cornerRadius": 4,
        "symbolType": "M-5,0H5M-0.4,0A0.4,0.4,0,1,1,0.4,0A0.4,0.4,0,1,1,-0.4,0",
        "symbolSize": 100,
        "symbolOffset": 12,
        "symbolStrokeWidth": 1.5,
        "symbolOpacity": 1,
        "labelOffset": 33,
        "rowPadding": 13,
        "encode": {
          "symbols": {"update": {"fill": {"scale": "color", "field": "value"}}}
        }
      }
    },
    "order": {"field": "t", "type": "quantitative"}
  }
}
